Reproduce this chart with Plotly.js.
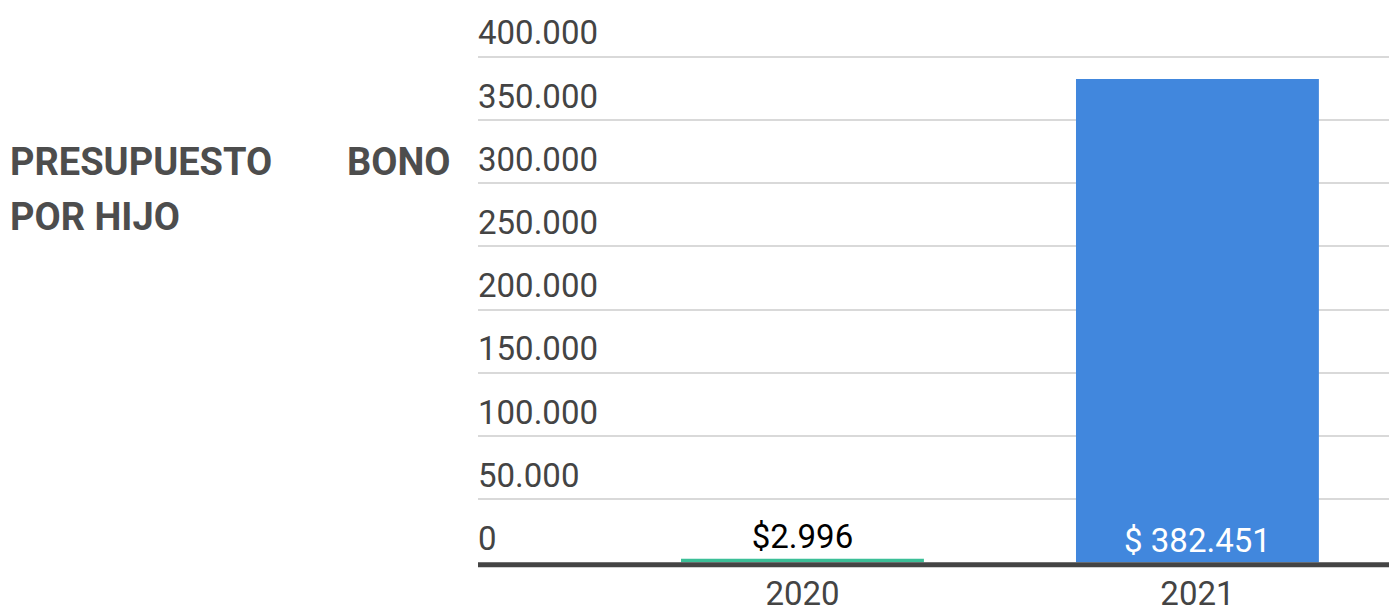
<!DOCTYPE html>
<html>
<head>
<meta charset="utf-8">
<script src="https://cdn.plot.ly/plotly-3.0.1.min.js"></script>
<style>html,body{margin:0;padding:0;background:#fff;}#chart{width:1389px;height:609px;}</style>
</head>
<body>
<div id="chart"></div>
<script>
const categories = ['2020', '2021'];
const values = [2996, 382451];
const valueLabels = ['$2.996', '$ 382.451'];
const barColors = ['#3bbf97', '#4187dd'];
const labelColors = ['#000000', '#ffffff'];
const labelPositions = ['outside', 'inside'];
const yTicks = [0, 50000, 100000, 150000, 200000, 250000, 300000, 350000, 400000];
const titleLine1Left = 'PRESUPUESTO';
const titleLine1Right = 'BONO';
const titleLine2 = 'POR HIJO';

const W = 1389, H = 609;
const px = x => x / W;
const py = y => 1 - y / H;

// y scale: 0 at 562.6px, 400k at 56.7px
const y0px = 562.6, y400px = 56.7;
const pxPerUnit = (y0px - y400px) / 400000;
const yTop = 440000;
const yTopPx = y0px - yTop * pxPerUnit;

const trace = {
  type: 'bar',
  x: categories,
  y: values,
  text: valueLabels,
  textposition: labelPositions,
  insidetextanchor: 'start',
  textangle: 0,
  cliponaxis: false,
  textfont: {family: 'Roboto', size: 33, color: labelColors},
  outsidetextfont: {family: 'Roboto', size: 33, color: '#000000'},
  insidetextfont: {family: 'Roboto', size: 33, color: '#ffffff'},
  marker: {color: barColors},
  hoverinfo: 'none'
};

const layout = {
  width: W, height: H,
  margin: {l: 0, r: 0, t: 0, b: 0},
  paper_bgcolor: '#ffffff',
  plot_bgcolor: '#ffffff',
  separators: ',.',
  showlegend: false,
  bargap: 0.385,
  font: {family: 'Roboto', color: '#444444'},
  xaxis: {
    type: 'category',
    domain: [px(478), 1],
    range: [-0.8215, 1.485],
    showgrid: false, zeroline: false, showline: false,
    ticks: '',
    ticklabelstandoff: 8,
    tickfont: {family: 'Roboto', size: 33, color: '#444444'},
    automargin: false
  },
  yaxis: {
    domain: [py(y0px), py(yTopPx)],
    range: [0, yTop],
    anchor: 'free',
    position: px(474),
    tickvals: yTicks,
    tickformat: ',d',
    showgrid: true, gridcolor: '#d9d9d9', gridwidth: 2,
    zeroline: false, showline: false,
    ticks: '',
    ticklabelposition: 'inside',
    ticklabelshift: -24,
    tickfont: {family: 'Roboto', size: 33, color: '#444444'},
    automargin: false
  },
  shapes: [{
    type: 'line', xref: 'paper', yref: 'paper',
    x0: px(478), x1: 1, y0: py(564.7), y1: py(564.7),
    line: {color: '#444444', width: 5}, layer: 'above'
  }],
  annotations: [
    {xref: 'paper', yref: 'paper', x: px(8), y: py(162), xanchor: 'left', yanchor: 'middle',
     text: '<b>' + titleLine1Left + '</b>', showarrow: false,
     font: {family: 'Roboto', size: 38, color: '#4d4d4d'}},
    {xref: 'paper', yref: 'paper', x: px(452), y: py(162), xanchor: 'right', yanchor: 'middle',
     text: '<b>' + titleLine1Right + '</b>', showarrow: false,
     font: {family: 'Roboto', size: 38, color: '#4d4d4d'}},
    {xref: 'paper', yref: 'paper', x: px(8), y: py(217), xanchor: 'left', yanchor: 'middle',
     text: '<b>' + titleLine2 + '</b>', showarrow: false,
     font: {family: 'Roboto', size: 38, color: '#4d4d4d'}}
  ]
};

Plotly.newPlot('chart', [trace], layout, {displayModeBar: false, staticPlot: true});
</script>
</body>
</html>
